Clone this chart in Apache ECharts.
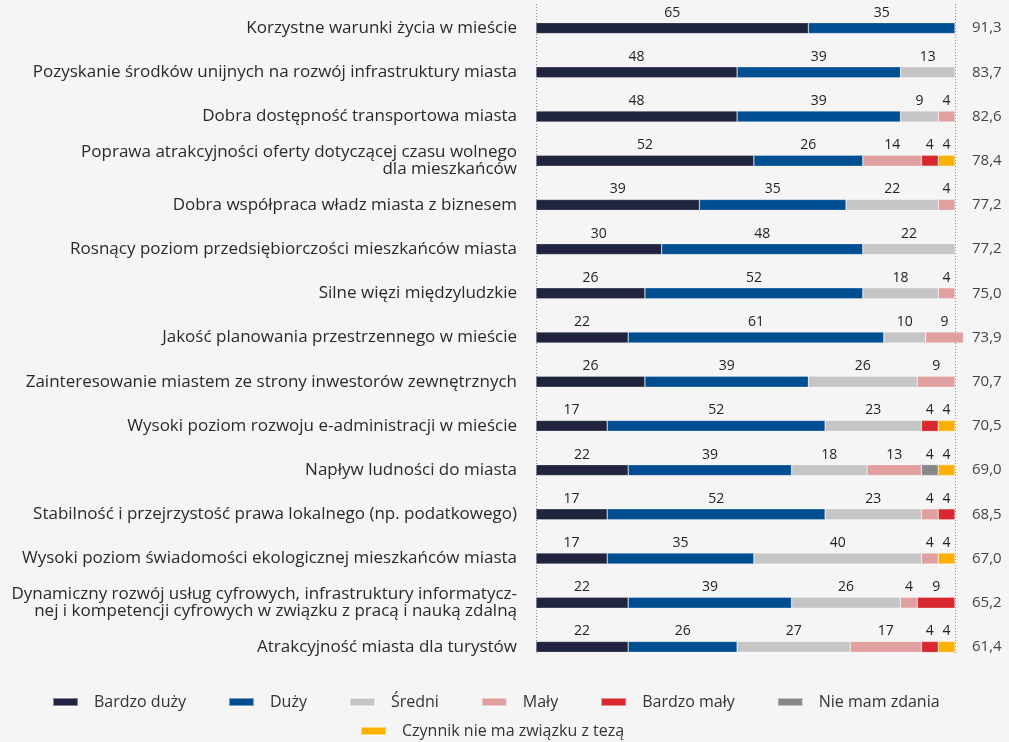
<!DOCTYPE html>
<html lang="pl">
<head>
<meta charset="utf-8">
<title>Czynniki rozwoju miasta</title>
<script src="https://cdn.jsdelivr.net/npm/echarts@6/dist/echarts.min.js"></script>
<style>
  html, body { margin: 0; padding: 0; background: #f5f5f5; }
  #chart { width: 1009px; height: 742px; }
</style>
</head>
<body>
<div id="chart"></div>
<script>
// Czynniki (od góry do dołu)
const categories = [
  'Korzystne warunki życia w mieście',
  'Pozyskanie środków unijnych na rozwój infrastruktury miasta',
  'Dobra dostępność transportowa miasta',
  'Poprawa atrakcyjności oferty dotyczącej czasu wolnego\ndla mieszkańców',
  'Dobra współpraca władz miasta z biznesem',
  'Rosnący poziom przedsiębiorczości mieszkańców miasta',
  'Silne więzi międzyludzkie',
  'Jakość planowania przestrzennego w mieście',
  'Zainteresowanie miastem ze strony inwestorów zewnętrznych',
  'Wysoki poziom rozwoju e-administracji w mieście',
  'Napływ ludności do miasta',
  'Stabilność i przejrzystość prawa lokalnego (np. podatkowego)',
  'Wysoki poziom świadomości ekologicznej mieszkańców miasta',
  'Dynamiczny rozwój usług cyfrowych, infrastruktury informatycz-\nnej i kompetencji cyfrowych w związku z pracą i nauką zdalną',
  'Atrakcyjność miasta dla turystów'
];

// Wskaźnik zbiorczy dla każdego czynnika
const scores = ['91,3', '83,7', '82,6', '78,4', '77,2', '77,2', '75,0', '73,9',
                '70,7', '70,5', '69,0', '68,5', '67,0', '65,2', '61,4'];

// Odpowiedzi (%), null = brak odpowiedzi w danej kategorii
const bardzoDuzy   = [65, 48, 48, 52, 39, 30, 26, 22, 26, 17, 22, 17, 17, 22, 22];
const duzy         = [35, 39, 39, 26, 35, 48, 52, 61, 39, 52, 39, 52, 35, 39, 26];
const sredni       = [null, 13, 9, null, 22, 22, 18, 10, 26, 23, 18, 23, 40, 26, 27];
const maly         = [null, null, 4, 14, 4, null, 4, 9, 9, null, 13, 4, 4, 4, 17];
const bardzoMaly   = [null, null, null, 4, null, null, null, null, null, 4, null, 4, null, 9, 4];
const nieMamZdania = [null, null, null, null, null, null, null, null, null, null, 4, null, null, null, null];
const brakZwiazku  = [null, null, null, 4, null, null, null, null, null, 4, 4, null, 4, null, 4];

const seriesNames = ['Bardzo duży', 'Duży', 'Średni', 'Mały', 'Bardzo mały', 'Nie mam zdania', 'Czynnik nie ma związku z tezą'];
const seriesData  = [bardzoDuzy, duzy, sredni, maly, bardzoMaly, nieMamZdania, brakZwiazku];
const colors      = ['#20243f', '#004e92', '#c5c5c5', '#e0a0a0', '#d8272f', '#878787', '#fdb000'];

const FONT = '"Open Sans", "Noto Sans", sans-serif';

const chart = echarts.init(document.getElementById('chart'), null, { renderer: 'canvas' });

const series = seriesNames.map((name, i) => ({
  name,
  type: 'bar',
  stack: 'total',
  xAxisIndex: 0,
  yAxisIndex: 0,
  barWidth: 11,
  clip: false,
  data: seriesData[i],
  itemStyle: { color: colors[i], borderColor: 'rgba(255,255,255,0.45)', borderWidth: 0.6 },
  label: {
    show: true,
    position: 'top',
    distance: 3,
    color: '#222',
    fontFamily: FONT,
    fontSize: 14,
    formatter: p => (p.value == null ? '' : String(p.value))
  },
  emphasis: { disabled: true }
}));

const legendText = {
  color: '#333',
  fontFamily: FONT,
  fontSize: 16,
  padding: [0, 0, 0, 11]
};

chart.setOption({
  backgroundColor: '#f5f5f5',
  animation: false,
  color: colors,
  grid: [
    { left: 536, right: 54, top: 6, bottom: 73 },
    { left: 536, right: 54, top: 4, bottom: 87 }
  ],
  legend: [
    {
      data: seriesNames.slice(0, 6),
      left: 47,
      top: 689,
      icon: 'rect',
      itemWidth: 25,
      itemHeight: 8,
      itemGap: 42,
      textStyle: legendText
    },
    {
      data: seriesNames.slice(6),
      left: 355,
      top: 718,
      icon: 'rect',
      itemWidth: 25,
      itemHeight: 8,
      itemGap: 42,
      textStyle: legendText
    }
  ],
  xAxis: [
    {
      gridIndex: 0,
      type: 'value',
      min: 0,
      max: 100,
      show: false
    },
    {
      gridIndex: 1,
      type: 'value',
      min: 0,
      max: 100,
      interval: 100,
      axisLine: { show: false },
      axisTick: { show: false },
      axisLabel: { show: false },
      splitLine: { show: true, lineStyle: { color: '#8a8a8a', type: [1, 2], width: 1 } }
    }
  ],
  yAxis: [
    {
      gridIndex: 0,
      type: 'category',
      inverse: true,
      data: categories,
      axisLine: { show: false },
      axisTick: { show: false },
      axisLabel: {
        margin: 19,
        color: '#2a2a2a',
        fontFamily: FONT,
        fontSize: 17,
        lineHeight: 17,
        align: 'right'
      }
    },
    {
      gridIndex: 0,
      type: 'category',
      inverse: true,
      position: 'right',
      data: scores,
      axisLine: { show: false },
      axisTick: { show: false },
      axisLabel: {
        margin: 17,
        color: '#444',
        fontFamily: FONT,
        fontSize: 15,
        align: 'left'
      }
    },
    {
      gridIndex: 1,
      type: 'value',
      min: 0,
      max: 1,
      show: false
    }
  ],
  series
});
</script>
</body>
</html>
